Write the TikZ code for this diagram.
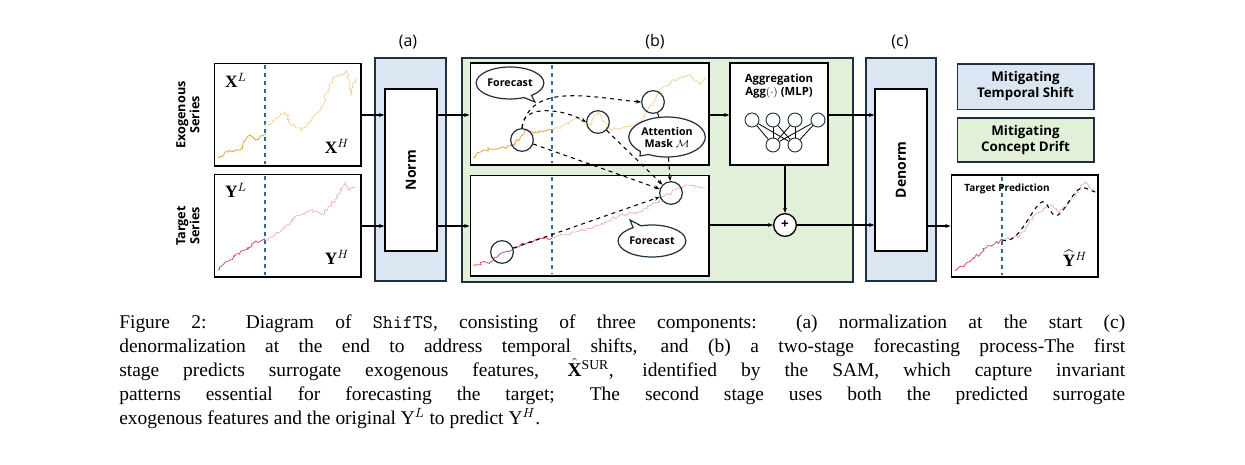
\documentclass[tikz,border=0pt]{standalone}
\usepackage{amsmath,amssymb}
\usepackage{fontspec}
\setmainfont{Liberation Serif}
\newfontfamily\osf{Open Sans}
\usetikzlibrary{shapes.callouts,decorations.pathmorphing,arrows.meta}
\definecolor{bfill}{HTML}{DCE6F2}
\definecolor{gfill}{HTML}{E2F0D9}
\definecolor{bord}{HTML}{1F3040}
\definecolor{orD}{HTML}{EBA035}
\definecolor{orL}{HTML}{F3D49A}
\definecolor{pkD}{HTML}{DD4A6E}
\definecolor{pkL}{HTML}{F2B3C4}
\definecolor{dash}{HTML}{2E6A99}
\begin{document}
\begin{tikzpicture}[x=0.75pt,y=-0.75pt,
  box/.style={draw=black,line width=1pt,fill=white},
  outer/.style={draw=bord,line width=1.2pt},
  lbl/.style={font=\osf\bfseries\fontsize{9.5}{10.5}\selectfont,align=center},
  circ/.style={circle,draw=bord,line width=0.9pt,minimum size=17pt,inner sep=0pt},
  neu/.style={circle,draw=bord,line width=0.7pt,minimum size=10.5pt,inner sep=0pt},
  bub/.style={ellipse callout,draw=bord,line width=0.9pt,fill=white,font=\osf\bfseries\fontsize{8}{9}\selectfont,align=center,inner sep=1pt},
  arr/.style={-{Stealth[length=4pt]},line width=1pt},
  darr/.style={-{Stealth[length=4pt]},dashed,line width=0.8pt},
  rough/.style={decorate,decoration={random steps,segment length=1.6pt,amplitude=1.2pt}},
  vdash/.style={dashed,draw=dash,line width=0.8pt},
  ml/.style={font=\fontsize{13}{14}\selectfont}]
\pgfmathsetseed{7}
\useasboundingbox (0,0) rectangle (1245,464);
% outer panels
\node[outer,fill=bfill,minimum width=53pt,minimum height=167pt,inner sep=0] (na) at (410.5,169.5) {};
\node[outer,fill=gfill,minimum width=293pt,minimum height=168pt,inner sep=0] (nb) at (657.5,170) {};
\node[outer,fill=bfill,minimum width=52.5pt,minimum height=167pt,inner sep=0] (nc) at (901,169.5) {};
\node[font=\osf\fontsize{12}{14}\selectfont] (ta) at (408,42) {(a)};
\node[font=\osf\fontsize{12}{14}\selectfont] (tb) at (655,42) {(b)};
\node[font=\osf\fontsize{12}{14}\selectfont] (tc) at (900,42) {(c)};
% norm/denorm
\node[box,minimum width=39pt,minimum height=121.5pt,inner sep=0] (norm) at (411,170) {};
\node[lbl,rotate=90,font=\osf\bfseries\fontsize{10.5}{12}\selectfont] (normt) at (411,170) {Norm};
\node[box,minimum width=39pt,minimum height=121.5pt,inner sep=0] (den) at (901,170) {};
\node[lbl,rotate=90,font=\osf\bfseries\fontsize{10.5}{12}\selectfont] (dent) at (901,170) {Denorm};
% input boxes
\node[box,minimum width=110pt,minimum height=77pt,inner sep=0] (ex) at (287.5,114.5) {};
\node[box,minimum width=110pt,minimum height=77pt,inner sep=0] (tg) at (287.5,225.5) {};
\draw[vdash] (265,65) -- (265,164);
\draw[vdash] (265,176) -- (265,275);
\draw[orD,line width=0.6pt,rough] (218,158) -- (228,152) -- (240,150) -- (250,135) -- (258,140) -- (265,134);
\draw[orL,line width=0.6pt,rough] (265,126) -- (275,120) -- (285,112) -- (292,125) -- (302,131) -- (312,118) -- (320,110) -- (328,90) -- (332,78) -- (340,75) -- (347,72) -- (351,95) -- (355,78);
\draw[pkD,line width=0.6pt,rough] (218,270) -- (230,260) -- (245,250) -- (255,242) -- (265,240);
\draw[pkL,line width=0.6pt,rough] (265,240) -- (280,232) -- (295,218) -- (310,210) -- (322,215) -- (335,200) -- (345,183) -- (350,190) -- (355,188);
\node[ml] (exl) at (236,80) {$\mathbf{X}^L$};
\node[ml] (exh) at (337,146) {$\mathbf{X}^H$};
\node[ml] (tgl) at (236,190) {$\mathbf{Y}^L$};
\node[ml] (tgh) at (337,257) {$\mathbf{Y}^H$};
\node[lbl,rotate=90] (exs) at (188,115) {Exogenous\\Series};
\node[lbl,rotate=90] (tgs) at (188,226) {Target\\Series};
% inner (b)
\node[box,minimum width=179pt,minimum height=76.5pt,inner sep=0] (bt) at (589.5,114) {};
\node[box,minimum width=179pt,minimum height=75.5pt,inner sep=0] (bb) at (589.5,225.5) {};
\draw[vdash] (552,65) -- (552,163);
\draw[vdash] (552,177) -- (552,274);
\draw[orD,line width=0.6pt,rough] (473,157) -- (485,150) -- (500,148) -- (515,145) -- (525,130) -- (535,133) -- (552,130);
\draw[orL,line width=0.6pt,rough] (552,130) -- (565,125) -- (578,118) -- (590,125) -- (598,112) -- (610,130) -- (625,128) -- (640,122) -- (655,100) -- (662,88) -- (675,80) -- (690,75) -- (700,85) -- (706,78);
\draw[pkD,line width=0.6pt,rough] (473,265) -- (490,262) -- (505,252) -- (520,245) -- (535,240) -- (552,238);
\draw[pkL,line width=0.6pt,rough] (552,238) -- (575,232) -- (600,225) -- (620,215) -- (640,212) -- (660,200) -- (675,190) -- (690,185) -- (705,188);
\node[box,minimum width=73.5pt,minimum height=76.5pt,inner sep=0] (agg) at (779,114) {};
\node[font=\osf\bfseries\fontsize{8.5}{10}\selectfont,align=center] (aggt) at (779,86) {Aggregation\\Agg$(\cdot)$ (MLP)};
\foreach \i/\x in {1/752,2/773,3/795,4/818} \node[neu] (t\i) at (\x,120) {};
\foreach \i/\x in {1/773,2/795} \node[neu] (u\i) at (\x,145) {};
\foreach \i in {1,2,3,4} \foreach \j in {1,2} \draw[line width=0.6pt] (t\i) -- (u\j);
\node[circle,draw=black,line width=1pt,fill=white,minimum size=17pt,inner sep=0,font=\osf\bfseries] (plus) at (785,225) {+};
% circles and bubbles
\node[circ] (c1) at (522,140) {};
\node[circ] (c2) at (598,122) {};
\node[circ] (c3) at (653,102) {};
\node[circ] (c4) at (671,193) {};
\node[circ] (c5) at (502,252) {};
\node[bub,minimum width=48pt,minimum height=24pt,callout absolute pointer={(535,102)}] (fc1) at (510,83) {Forecast};
\node[bub,minimum width=50pt,minimum height=30pt,callout absolute pointer={(640,156)}] (att) at (667,137) {Attention\\Mask $\mathcal{M}$};
\node[bub,minimum width=50pt,minimum height=24pt,callout absolute pointer={(630,220)}] (fc2) at (652,241) {Forecast};
\draw[darr] (c1.north) to[out=90,in=150] (c2.west);
\draw[darr] (c1.north) to[out=80,in=175] (c3.west);
\draw[darr] (c1) -- (c4);
\draw[darr] (c2) -- (c4);
\draw[darr] (att) -- (c4);
\draw[darr] (c5) -- (c4);
\draw[dashed,line width=0.7pt] (c3) -- (att);
% right boxes
\node[draw=bord,line width=1pt,fill=bfill,minimum width=102.5pt,minimum height=34pt,inner sep=0,lbl,font=\osf\bfseries\fontsize{10}{12}\selectfont] (ts) at (1025.5,86.5) {Mitigating\\Temporal Shift};
\node[draw=bord,line width=1pt,fill=gfill,minimum width=102.5pt,minimum height=33pt,inner sep=0,lbl,font=\osf\bfseries\fontsize{10}{12}\selectfont] (cd) at (1025.5,140) {Mitigating\\Concept Drift};
\node[box,minimum width=110pt,minimum height=76.5pt,inner sep=0] (pr) at (1024.5,226) {};
\draw[vdash] (1002,177) -- (1002,275);
\draw[pkD,line width=0.6pt,rough] (955,270) -- (970,262) -- (985,248) -- (1002,240);
\draw[pkL,line width=0.6pt,rough] (1002,240) -- (1020,236) -- (1035,215) -- (1050,205) -- (1060,212) -- (1072,198) -- (1085,182) -- (1095,192);
\draw[dashed,line width=0.8pt] (1002,240) .. controls (1018,245) and (1028,215) .. (1040,203) .. controls (1048,196) and (1050,220) .. (1058,215) .. controls (1068,208) and (1075,185) .. (1085,188) -- (1095,192);
\node[font=\osf\bfseries\fontsize{7.5}{8.5}\selectfont] (prt) at (1007,189) {Target Prediction};
\node[ml] (prh) at (1075,258) {$\widehat{\mathbf{Y}}^H$};
% arrows
\draw[arr] (ex.east |- 0,115) -- (norm.west |- 0,115);
\draw[arr] (tg.east |- 0,226) -- (norm.west |- 0,226);
\draw[arr] (norm.east |- 0,115) -- (bt.west |- 0,115);
\draw[arr] (norm.east |- 0,226) -- (bb.west |- 0,226);
\draw[arr] (bt.east |- 0,115) -- (agg.west |- 0,115);
\draw[arr] (agg.south -| plus) -- (plus.north);
\draw[arr] (bb.east |- 0,225) -- (plus.west);
\draw[arr] (plus.east) -- (den.west |- 0,225);
\draw[arr] (agg.east |- 0,115) -- (den.west |- 0,115);
\draw[arr] (den.east |- 0,226) -- (pr.west |- 0,226);
% caption
\begin{scope}[every node/.style={anchor=base west,inner sep=0,font=\fontsize{14.6}{17}\selectfont}]
\node (l1) at (119,328) {\makebox[754.5pt][s]{Figure 2: Diagram of \texttt{ShifTS}, consisting of three components: (a) normalization at the start (c)}};
\node (l2) at (119,352) {\makebox[754.5pt][s]{denormalization at the end to address temporal shifts, and (b) a two-stage forecasting process-The first}};
\node (l3) at (119,376) {\makebox[754.5pt][s]{stage predicts surrogate exogenous features, $\hat{\mathbf{X}}^{\mathrm{SUR}}$, identified by the SAM, which capture invariant}};
\node (l4) at (119,400) {\makebox[754.5pt][s]{patterns essential for forecasting the target; The second stage uses both the predicted surrogate}};
\node (l5) at (119,424) {exogenous features and the original $\mathrm{Y}^L$ to predict $\mathrm{Y}^H$.};
\end{scope}
\end{tikzpicture}
\end{document}
